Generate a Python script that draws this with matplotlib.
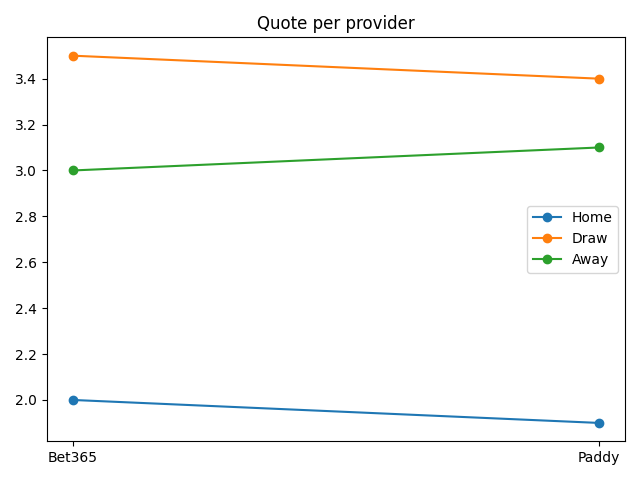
import matplotlib
matplotlib.use("Agg")
import matplotlib.pyplot as plt

# Data
providers = ["Bet365", "Paddy"]
home = [2.0, 1.9]
draw = [3.5, 3.4]
away = [3.0, 3.1]

fig, ax = plt.subplots(figsize=(6.4, 4.8), dpi=100)
ax.plot(providers, home, marker="o", label="Home")
ax.plot(providers, draw, marker="o", label="Draw")
ax.plot(providers, away, marker="o", label="Away")
ax.set_title("Quote per provider")
ax.legend(loc="center right")
fig.tight_layout()
fig.savefig("out.png")
